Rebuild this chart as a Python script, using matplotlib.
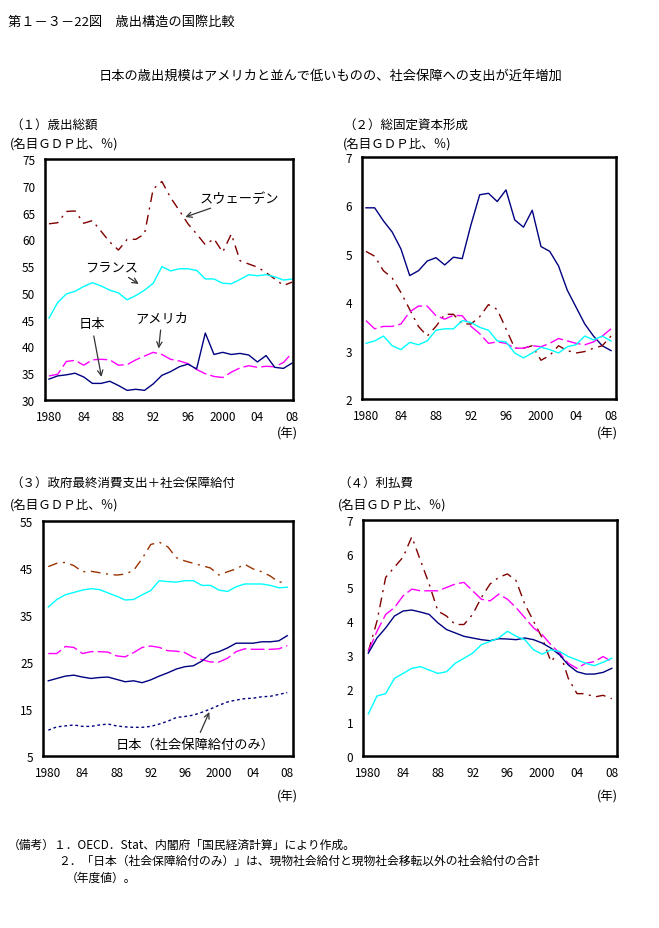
import matplotlib
matplotlib.use("Agg")
import matplotlib.pyplot as plt
import numpy as np

plt.rcParams['font.family'] = ['Noto Sans CJK JP', 'DejaVu Sans']

years = np.arange(1980, 2009)
tick_years = [1980, 1984, 1988, 1992, 1996, 2000, 2004, 2008]
tick_labels = ['1980', '84', '88', '92', '96', '2000', '04', '08']

# (1) total expenditure
exp_sweden = [62.9, 63.1, 65.2, 65.3, 63.0, 63.5, 61.5, 59.5, 58.0, 60.0, 60.0, 61.0, 69.4, 70.8,
              67.8, 65.4, 62.9, 61.0, 59.0, 60.1, 57.6, 61.0, 56.0, 55.4, 54.8, 53.8, 52.6, 51.4, 52.0]
exp_france = [45.3, 48.2, 49.8, 50.3, 51.2, 51.9, 51.3, 50.5, 50.0, 48.7, 49.5, 50.5, 51.8, 54.9,
              54.1, 54.5, 54.5, 54.2, 52.6, 52.6, 51.8, 51.7, 52.5, 53.4, 53.2, 53.4, 53.0, 52.4, 52.6]
exp_us = [34.5, 34.8, 37.2, 37.4, 36.5, 37.5, 37.6, 37.5, 36.5, 36.6, 37.5, 38.2, 38.9, 38.5,
          37.6, 37.3, 36.8, 35.7, 34.9, 34.4, 34.2, 35.2, 36.0, 36.4, 36.1, 36.3, 36.2, 37.0, 38.8]
exp_japan = [33.9, 34.5, 34.7, 35.0, 34.3, 33.1, 33.1, 33.5, 32.7, 31.8, 32.0, 31.8, 33.0, 34.6,
             35.3, 36.2, 36.7, 35.8, 42.5, 38.5, 38.9, 38.5, 38.7, 38.4, 37.1, 38.3, 36.1, 35.9, 36.9]

# (2) gross fixed capital formation
gfcf_japan = [5.95, 5.95, 5.68, 5.45, 5.10, 4.55, 4.65, 4.85, 4.92, 4.77, 4.93, 4.90, 5.60, 6.22,
              6.25, 6.08, 6.32, 5.70, 5.55, 5.90, 5.15, 5.05, 4.75, 4.25, 3.90, 3.55, 3.30, 3.10, 3.00]
gfcf_sweden = [5.05, 4.95, 4.65, 4.50, 4.20, 3.85, 3.50, 3.30, 3.50, 3.75, 3.75, 3.55, 3.55, 3.70,
               3.95, 3.85, 3.45, 3.05, 3.05, 3.10, 2.80, 2.90, 3.10, 3.00, 2.95, 2.98, 3.05, 3.10, 3.30]
gfcf_us = [3.62, 3.45, 3.50, 3.50, 3.55, 3.80, 3.92, 3.92, 3.72, 3.65, 3.73, 3.72, 3.50, 3.35,
           3.15, 3.18, 3.15, 3.05, 3.05, 3.10, 3.08, 3.15, 3.25, 3.20, 3.15, 3.12, 3.18, 3.30, 3.45]
gfcf_france = [3.15, 3.20, 3.30, 3.10, 3.02, 3.17, 3.12, 3.20, 3.42, 3.45, 3.45, 3.62, 3.58, 3.48,
               3.42, 3.20, 3.18, 2.95, 2.85, 2.95, 3.07, 3.02, 2.95, 3.08, 3.12, 3.30, 3.22, 3.30, 3.20]

# (3) government final consumption + social benefits
cons_sweden = [45.3, 46.0, 46.2, 45.5, 44.2, 44.3, 44.0, 43.7, 43.5, 43.7, 44.5, 47.0, 50.0, 50.5,
               49.5, 47.2, 46.5, 46.0, 45.5, 45.0, 43.5, 44.2, 44.8, 45.8, 44.8, 44.2, 43.3, 42.0, 42.0]
cons_france = [36.7, 38.3, 39.3, 39.8, 40.3, 40.6, 40.4, 39.7, 39.0, 38.2, 38.3, 39.3, 40.2, 42.3,
               42.1, 42.0, 42.3, 42.3, 41.3, 41.3, 40.3, 40.0, 41.0, 41.6, 41.6, 41.6, 41.3, 40.8, 40.9]
cons_us = [26.8, 26.8, 28.3, 28.1, 26.8, 27.2, 27.2, 27.1, 26.3, 26.1, 27.0, 28.1, 28.4, 28.1,
           27.4, 27.3, 27.0, 26.0, 25.5, 25.0, 25.0, 25.8, 27.2, 27.8, 27.7, 27.7, 27.7, 27.8, 28.5]
cons_japan = [21.0, 21.5, 22.0, 22.2, 21.8, 21.5, 21.7, 21.8, 21.3, 20.8, 21.0, 20.6, 21.2, 22.0,
              22.7, 23.5, 24.0, 24.2, 25.2, 26.7, 27.2, 28.0, 29.0, 29.0, 29.0, 29.3, 29.3, 29.5, 30.6]
cons_japan_ss = [10.5, 11.2, 11.4, 11.6, 11.3, 11.3, 11.6, 11.8, 11.4, 11.2, 11.1, 11.1, 11.3, 11.8,
                 12.4, 13.2, 13.4, 13.7, 14.3, 15.0, 15.8, 16.5, 16.9, 17.2, 17.3, 17.6, 17.7, 18.1, 18.5]

# (4) interest payments
int_sweden = [3.1, 4.0, 5.3, 5.6, 5.9, 6.5, 5.8, 5.1, 4.3, 4.15, 3.9, 3.9, 4.2, 4.7,
              5.1, 5.3, 5.4, 5.2, 4.5, 4.0, 3.5, 2.8, 3.1, 2.3, 1.85, 1.85, 1.75, 1.8, 1.7]
int_us = [3.1, 3.7, 4.2, 4.4, 4.75, 4.95, 4.9, 4.9, 4.9, 5.0, 5.1, 5.15, 4.9, 4.65,
          4.6, 4.8, 4.65, 4.4, 4.1, 3.8, 3.6, 3.3, 3.05, 2.75, 2.6, 2.75, 2.8, 2.95, 2.8]
int_japan = [3.05, 3.5, 3.8, 4.15, 4.3, 4.33, 4.27, 4.2, 3.95, 3.75, 3.65, 3.55, 3.5, 3.45,
             3.42, 3.48, 3.47, 3.45, 3.5, 3.45, 3.35, 3.2, 3.0, 2.7, 2.5, 2.43, 2.43, 2.48, 2.6]
int_france = [1.25, 1.78, 1.85, 2.3, 2.45, 2.6, 2.65, 2.55, 2.45, 2.5, 2.75, 2.9, 3.05, 3.3,
              3.4, 3.5, 3.7, 3.55, 3.45, 3.15, 3.02, 3.15, 3.1, 2.95, 2.85, 2.75, 2.68, 2.78, 2.9]

navy = '#000080'
cyan = '#00FFFF'
magenta = '#FF00FF'
maroon = '#800000'
brown = '#993300'
dashdot = (0, (7, 4, 1.5, 4))
longdash = (0, (10, 3))

W, H = 659, 929
fig = plt.figure(figsize=(W / 100, H / 100), dpi=100)


def px_axes(l, t, r, b):
    return fig.add_axes([l / W, 1 - b / H, (r - l) / W, (b - t) / H])


def style(ax, xlim, ylim, yticks):
    ax.set_xlim(*xlim)
    ax.set_ylim(*ylim)
    ax.set_yticks(yticks)
    ax.set_xticks(tick_years)
    ax.set_xticklabels(tick_labels)
    ax.tick_params(length=0, labelsize=8.5, pad=7)
    for s in ax.spines.values():
        s.set_linewidth(1.8)


def fig_text(x, y, s, size=9, ha='left'):
    fig.text(x / W, 1 - y / H, s, fontsize=size, ha=ha, va='center')


fig_text(8, 22, '第１－３－22図　歳出構造の国際比較', 9.5)
fig_text(331, 76, '日本の歳出規模はアメリカと並んで低いものの、社会保障への支出が近年増加', 9.5, 'center')

# (1)
ax1 = px_axes(45, 160, 293, 401)
ax1.plot(years, exp_sweden, color=maroon, lw=1, ls=dashdot)
ax1.plot(years, exp_france, color=cyan, lw=1)
ax1.plot(years, exp_us, color=magenta, lw=1, ls=longdash)
ax1.plot(years, exp_japan, color=navy, lw=1)
style(ax1, (1979.54, 2008.1), (30, 75), range(30, 76, 5))
arrow = dict(arrowstyle='->', color='#333333', lw=0.9)
ax1.annotate('スウェーデン', xy=(1995.4, 64.0), xytext=(1997.4, 66.5), fontsize=9.5,
             arrowprops=arrow, ha='left', va='bottom')
ax1.annotate('フランス', xy=(1990.6, 51.4), xytext=(1987.2, 54.9), fontsize=9.5,
             arrowprops=arrow, ha='center', va='center')
ax1.annotate('日本', xy=(1986.1, 33.8), xytext=(1984.9, 44.2), fontsize=9.5,
             arrowprops=arrow, ha='center', va='center')
ax1.annotate('アメリカ', xy=(1992.6, 39.1), xytext=(1993.0, 45.3), fontsize=9.5,
             arrowprops=arrow, ha='center', va='center')
fig_text(10, 125, '（１）歳出総額')
fig_text(10, 144, '(名目ＧＤＰ比、％)')
fig_text(287, 434, '(年)', 9, 'center')

# (2)
ax2 = px_axes(362, 158, 616, 400)
ax2.plot(years, gfcf_japan, color=navy, lw=1)
ax2.plot(years, gfcf_sweden, color=maroon, lw=1, ls=dashdot)
ax2.plot(years, gfcf_us, color=magenta, lw=1, ls=longdash)
ax2.plot(years, gfcf_france, color=cyan, lw=1)
style(ax2, (1979.55, 2008.57), (2, 7), range(2, 8))
fig_text(343, 125, '（２）総固定資本形成')
fig_text(343, 144, '(名目ＧＤＰ比、％)')
fig_text(607, 434, '(年)', 9, 'center')

# (3)
ax3 = px_axes(43, 522, 293, 757)
ax3.plot(years, cons_sweden, color=brown, lw=1, ls=dashdot)
ax3.plot(years, cons_france, color=cyan, lw=1)
ax3.plot(years, cons_us, color=magenta, lw=1, ls=longdash)
ax3.plot(years, cons_japan, color=navy, lw=1)
ax3.plot(years, cons_japan_ss, color=navy, lw=1, ls=(0, (2, 2)))
style(ax3, (1979.38, 2008.67), (5, 55), range(5, 56, 10))
ax3.annotate('日本（社会保障給付のみ）', xy=(1999.0, 14.9), xytext=(1997.2, 7.5), fontsize=9.5,
             arrowprops=arrow, ha='center', va='center')
fig_text(10, 483, '（３）政府最終消費支出＋社会保障給付')
fig_text(10, 505, '(名目ＧＤＰ比、％)')
fig_text(287, 797, '(年)', 9, 'center')

# (4)
ax4 = px_axes(363, 521, 617, 757)
ax4.plot(years, int_sweden, color=maroon, lw=1, ls=dashdot)
ax4.plot(years, int_us, color=magenta, lw=1, ls=longdash)
ax4.plot(years, int_japan, color=navy, lw=1)
ax4.plot(years, int_france, color=cyan, lw=1)
style(ax4, (1979.39, 2008.6), (0, 7), range(0, 8))
fig_text(338, 483, '（４）利払費')
fig_text(338, 505, '(名目ＧＤＰ比、％)')
fig_text(607, 797, '(年)', 9, 'center')

fig_text(8, 845, '（備考）１．OECD．Stat、内閣府「国民経済計算」により作成。', 8.5)
fig_text(58, 861, '２．「日本（社会保障給付のみ）」は、現物社会給付と現物社会移転以外の社会給付の合計', 8.5)
fig_text(66, 878, '（年度値）。', 8.5)

fig.savefig('out.png', dpi=100)
